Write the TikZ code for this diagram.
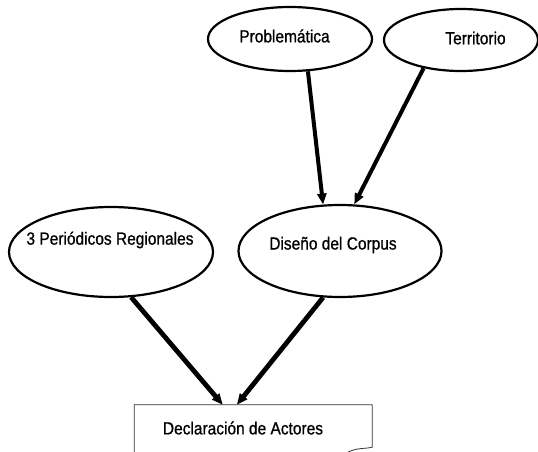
\documentclass[tikz,border=0pt]{standalone}
\usepackage{fontspec}
\setmainfont{Liberation Sans}
\newfontfamily\lblfont[FakeBold=0.9]{Liberation Sans}
\usetikzlibrary{shapes.geometric,arrows.meta}
\newcommand\narrowtxt[1]{\scalebox{0.88}[1]{#1}}
\begin{document}
\begin{tikzpicture}[x=1pt,y=-1pt,
  ell/.style={ellipse,draw=black,line width=2.2pt,inner sep=0pt},
  lbl/.style={inner sep=0pt,font=\lblfont\fontsize{17.6}{20}\selectfont},
  arr/.style={draw=black,line width=4pt,-{Triangle[length=11pt,width=9pt]}},
  arrb/.style={arr,line width=4.8pt}]
\useasboundingbox (0,0) rectangle (538,452);
\clip (0,0) rectangle (538,452);
% ellipses
\node[ell,minimum width=164pt,minimum height=64pt] (prob) at (290,39) {};
\node[ell,minimum width=154pt,minimum height=62pt] (terr) at (461,40) {};
\node[ell,minimum width=204pt,minimum height=90pt] (per) at (111,252) {};
\node[ell,minimum width=203pt,minimum height=92pt] (dis) at (340,251) {};
% texts
\node[lbl] (probt) at (284.5,36) {\narrowtxt{Problemática}};
\node[lbl] (terrt) at (475.5,38) {\narrowtxt{Territorio}};
\node[lbl] (pert) at (110,240) {\narrowtxt{3 Periódicos Regionales}};
\node[lbl] (dist) at (333,245) {\narrowtxt{Diseño del Corpus}};
% box
\node[inner sep=0pt,minimum width=237.5pt,minimum height=42pt] (box) at (253.25,426) {};
\node[lbl] (boxt) at (243,428) {\narrowtxt{Declaración de Actores}};
\draw[black!80,line width=0.8pt] ([yshift=-15pt]box.south west) -- (box.north west) -- (box.north east) -- (box.south east)
  .. controls ([xshift=-8pt,yshift=-2pt]box.south east) and ([xshift=-16pt,yshift=0pt]box.south east) .. ([xshift=-26pt,yshift=-6pt]box.south east);
% arrows
\draw[arr] (prob.-61) -- (dis.110);
\draw[arr] (terr.217) -- (dis.73);
\draw[arrb] (per.-66) -- ([xshift=88.5pt]box.north west);
\draw[arrb] (dis.250) -- ([xshift=102.5pt]box.north west);
\end{tikzpicture}
\end{document}
